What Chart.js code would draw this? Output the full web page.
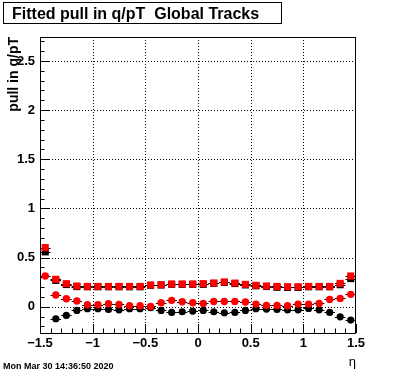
<!DOCTYPE html>
<html lang="en">
<head>
    <meta charset="UTF-8">
    <title>Fitted pull in q/pT</title>
    <script src="https://cdn.jsdelivr.net/npm/chart.js"></script>
    <style>
        html, body { margin: 0; padding: 0; background: #fff; }
        #wrap { width: 396px; height: 372px; position: relative; }
    </style>
</head>
<body>
    <div id="wrap"><canvas id="myChart"></canvas></div>
    <script>
        // eta bin centres
        const eta = [-1.45, -1.35, -1.25, -1.15, -1.05, -0.95, -0.85, -0.75, -0.65, -0.55,
                     -0.45, -0.35, -0.25, -0.15, -0.05, 0.05, 0.15, 0.25, 0.35, 0.45,
                     0.55, 0.65, 0.75, 0.85, 0.95, 1.05, 1.15, 1.25, 1.35, 1.45];
        const halfBin = 0.05;

        // sigma (squares) and mean (circles)
        const redSquares = [0.602, 0.279, 0.235, 0.211, 0.207, 0.207, 0.207, 0.207, 0.207, 0.207,
                            0.221, 0.224, 0.231, 0.231, 0.231, 0.235, 0.241, 0.252, 0.241, 0.228,
                            0.218, 0.211, 0.207, 0.204, 0.204, 0.207, 0.207, 0.207, 0.238, 0.313];
        const blackSquares = [0.558, 0.268, 0.226, 0.205, 0.203, 0.203, 0.203, 0.203, 0.203, 0.203,
                              0.218, 0.221, 0.228, 0.228, 0.228, 0.228, 0.238, 0.247, 0.236, 0.222,
                              0.213, 0.206, 0.198, 0.196, 0.196, 0.203, 0.203, 0.203, 0.224, 0.286];
        const redCircles = [0.313, 0.119, 0.082, 0.058, 0.020, 0.020, 0.031, 0.024, 0.010, 0.010,
                            0.003, 0.041, 0.065, 0.051, 0.041, 0.034, 0.054, 0.054, 0.054, 0.048,
                            0.027, 0.014, 0.014, 0.010, 0.027, 0.027, 0.034, 0.075, 0.085, 0.126];
        const blackCircles = [null, -0.122, -0.088, -0.037, -0.020, -0.020, -0.027, -0.031, -0.020, -0.020,
                              -0.010, -0.037, -0.058, -0.051, -0.044, -0.037, -0.051, -0.061, -0.058, -0.037,
                              -0.020, -0.024, -0.027, -0.031, -0.031, -0.017, -0.031, -0.058, -0.102, -0.136];

        const xTicks = [-1.5, -1, -0.5, 0, 0.5, 1, 1.5];
        const yTicks = [0, 0.5, 1, 1.5, 2, 2.5];

        const titleText = 'Fitted pull in q/pT  Global Tracks';
        const dateText = 'Mon Mar 30 14:36:50 2020';
        const FONT = '"Liberation Sans", Arial, Helvetica, sans-serif';

        function pts(arr) {
            return eta.map((x, i) => ({ x: x, y: arr[i] }));
        }
        function fmt(v) {
            return String(v).replace('-', '\u2212');
        }

        // frame, grid, ticks, title box, date, x error bars
        const rootStyle = {
            id: 'rootStyle',
            beforeDatasetsDraw(chart) {
                const { ctx, chartArea: a, scales: { x, y } } = chart;
                ctx.save();
                // dotted grid
                ctx.strokeStyle = '#000';
                ctx.lineWidth = 1;
                ctx.setLineDash([1, 2]);
                ctx.beginPath();
                xTicks.forEach(v => {
                    const px = Math.round(x.getPixelForValue(v)) + 0.5;
                    if (px > a.left + 1 && px < a.right - 1) {
                        ctx.moveTo(px, a.top); ctx.lineTo(px, a.bottom);
                    }
                });
                yTicks.forEach(v => {
                    const py = Math.round(y.getPixelForValue(v)) + 0.5;
                    ctx.moveTo(a.left, py); ctx.lineTo(a.right, py);
                });
                ctx.stroke();
                ctx.setLineDash([]);

                // frame
                ctx.strokeRect(a.left + 0.5, a.top + 0.5, a.right - a.left - 1, a.bottom - a.top);

                // tick marks (major + minor every 0.1)
                ctx.beginPath();
                for (let k = -15; k <= 15; k++) {
                    const v = k / 10;
                    const len = (k % 5 === 0) ? 9 : 4.5;
                    const px = Math.round(x.getPixelForValue(v)) + 0.5;
                    ctx.moveTo(px, a.bottom); ctx.lineTo(px, a.bottom - len);
                }
                for (let k = -2; k <= 27; k++) {
                    const v = k / 10;
                    const len = (k % 5 === 0) ? 9 : 4.5;
                    const py = Math.round(y.getPixelForValue(v)) + 0.5;
                    if (py < a.top || py > a.bottom) continue;
                    ctx.moveTo(a.left, py); ctx.lineTo(a.left + len, py);
                }
                ctx.stroke();

                // horizontal error bars
                chart.data.datasets.forEach(ds => {
                    ctx.strokeStyle = '#000';
                    ctx.beginPath();
                    ds.data.forEach(p => {
                        if (p.y === null) return;
                        const py = Math.round(y.getPixelForValue(p.y)) + 0.5;
                        ctx.moveTo(x.getPixelForValue(p.x - halfBin), py);
                        ctx.lineTo(x.getPixelForValue(p.x + halfBin), py);
                    });
                    ctx.stroke();
                });

                // title box
                ctx.fillStyle = '#fff';
                ctx.fillRect(3, 2, 279, 21);
                ctx.strokeRect(3.5, 2.5, 278, 21);
                ctx.fillStyle = '#000';
                ctx.font = 'bold 16px ' + FONT;
                ctx.textBaseline = 'alphabetic';
                ctx.textAlign = 'left';
                ctx.fillText(titleText, 12, 18.5);

                // date stamp
                ctx.font = 'bold 9px ' + FONT;
                ctx.fillText(dateText, 3, 369);
                ctx.restore();
            }
        };

        const ctx = document.getElementById('myChart').getContext('2d');
        const myChart = new Chart(ctx, {
            type: 'scatter',
            data: {
                datasets: [
                    { label: 'sigma', data: pts(redSquares), pointStyle: 'rect', pointRadius: 5,
                      backgroundColor: '#ff0000', borderColor: '#ff0000', borderWidth: 0, order: 1 },
                    { label: 'mean', data: pts(redCircles), pointStyle: 'circle', pointRadius: 3.7,
                      backgroundColor: '#ff0000', borderColor: '#ff0000', borderWidth: 0, order: 1 },
                    { label: 'sigma all', data: pts(blackSquares), pointStyle: 'rect', pointRadius: 5,
                      backgroundColor: '#000', borderColor: '#000', borderWidth: 0, order: 2 },
                    { label: 'mean all', data: pts(blackCircles), pointStyle: 'circle', pointRadius: 3.6,
                      backgroundColor: '#000', borderColor: '#000', borderWidth: 0, order: 2 }
                ]
            },
            options: {
                responsive: true,
                maintainAspectRatio: false,
                animation: false,
                layout: { padding: { top: 37, right: 40, left: 0, bottom: 0 } },
                plugins: {
                    legend: { display: false },
                    tooltip: { enabled: false }
                },
                scales: {
                    x: {
                        type: 'linear', min: -1.5, max: 1.5,
                        grid: { display: false, drawTicks: false },
                        border: { display: false },
                        afterFit(s) { s.height = 39; },
                        afterBuildTicks(s) { s.ticks = xTicks.map(v => ({ value: v })); },
                        ticks: {
                            color: '#000', padding: 3, maxRotation: 0, autoSkip: false,
                            font: { family: FONT, size: 13, weight: 'bold' },
                            callback: v => fmt(v)
                        },
                        title: {
                            display: true, text: '\u03b7', align: 'end', color: '#000',
                            font: { family: FONT, size: 13 }, padding: { top: 4, bottom: 2 }
                        }
                    },
                    y: {
                        type: 'linear', min: -0.267, max: 2.744,
                        grid: { display: false, drawTicks: false },
                        border: { display: false },
                        afterFit(s) { s.width = 40; },
                        afterBuildTicks(s) { s.ticks = yTicks.map(v => ({ value: v })); },
                        ticks: {
                            color: '#000', padding: 5,
                            font: { family: FONT, size: 13, weight: 'bold' },
                            callback: v => fmt(v)
                        },
                        title: {
                            display: true, text: 'pull in q/pT', align: 'end', color: '#000',
                            font: { family: FONT, size: 14, weight: 'bold' }, padding: { top: 6, bottom: 0 }
                        }
                    }
                }
            },
            plugins: [rootStyle]
        });
    </script>
</body>
</html>
